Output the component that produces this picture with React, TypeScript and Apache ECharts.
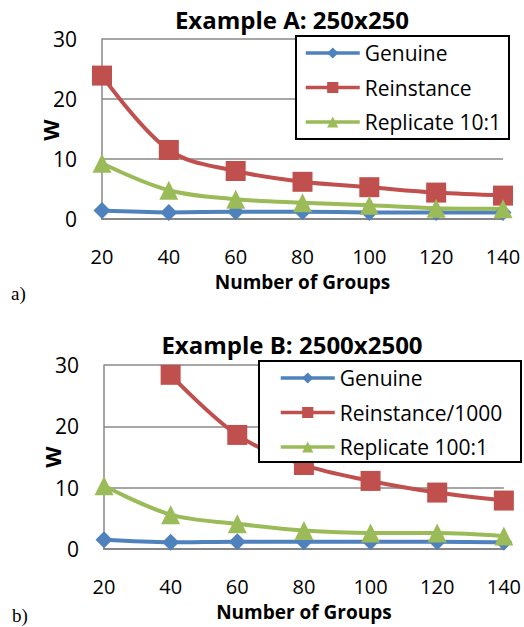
import React, { useEffect, useRef } from "react";
import * as echarts from "echarts";

const groups = ["20", "40", "60", "80", "100", "120", "140"];

const genuineA = [1.4, 1.1, 1.2, 1.2, 1.1, 1.1, 1.1];
const reinstanceA = [23.9, 11.5, 8.0, 6.2, 5.3, 4.4, 3.9];
const replicateA = [9.3, 4.8, 3.3, 2.7, 2.3, 1.8, 1.7];

const genuineB = [1.5, 1.1, 1.2, 1.2, 1.2, 1.2, 1.1];
const reinstanceB = [null, 28.4, 18.6, 13.7, 11.1, 9.2, 7.9];
const replicateB = [10.3, 5.6, 4.1, 3.0, 2.6, 2.6, 2.1];

const titleA = "Example A: 250x250";
const titleB = "Example B: 2500x2500";
const namesA = ["Genuine", "Reinstance", "Replicate 10:1"];
const namesB = ["Genuine", "Reinstance/1000", "Replicate 100:1"];
const yTicks = [0, 10, 20, 30];
const yName = "W";
const xName = "Number of Groups";

const BLUE = "#4F81BD";
const RED = "#C0504D";
const GREEN = "#9BBB59";
const FONT = "'Open Sans', sans-serif";

export default function App() {
  const ref = useRef<HTMLDivElement>(null);
  useEffect(() => {
    if (!ref.current) return;
    const chart = echarts.init(ref.current, null, { renderer: "svg" });

    const xAxis = (gi: number) => ({
      type: "category",
      gridIndex: gi,
      data: groups,
      boundaryGap: false,
      axisLine: { show: true, lineStyle: { color: "#888", width: 2 } },
      axisTick: { show: false },
      axisLabel: { margin: 27, fontSize: 20, lineHeight: 20, color: "#000", fontFamily: FONT },
      name: xName,
      nameLocation: "middle",
      nameGap: 53,
      nameMoveOverlap: false,
      nameTextStyle: { fontSize: 19, lineHeight: 19, fontWeight: "bold", color: "#000", fontFamily: FONT },
    });
    const yAxis = (gi: number) => ({
      type: "value",
      gridIndex: gi,
      min: yTicks[0],
      max: yTicks[yTicks.length - 1],
      interval: 10,
      axisLine: { show: true, lineStyle: { color: "#888", width: 1.5 } },
      axisTick: { show: false },
      axisLabel: { margin: 25, fontSize: 21, color: "#000", fontFamily: FONT },
      splitLine: { show: true, lineStyle: { color: "#888", width: 1.5 } },
    });

    const mk = (name: string, data: (number | null)[], color: string, symbol: string, size: number, xi: number) => ({
      type: "line",
      name,
      data,
      xAxisIndex: xi,
      yAxisIndex: xi,
      smooth: 0.35,
      color,
      lineStyle: { width: 4, color },
      symbol,
      symbolSize: size,
      itemStyle: { color },
      connectNulls: false,
    });

    const legendCommon = {
      orient: "vertical",
      itemWidth: 54,
      itemHeight: 14,
      itemGap: 12.5,
      padding: 0,
      lineStyle: { width: 3.5 },
      textStyle: { fontSize: 21, color: "#000", fontFamily: FONT, lineHeight: 22 },
    };

    const wText = (x: number, y: number) => ({
      type: "text",
      x,
      y,
      rotation: Math.PI / 2,
      style: {
        text: yName,
        fontSize: 22,
        fontWeight: "bold",
        fontFamily: FONT,
        fill: "#000",
        align: "center",
        verticalAlign: "middle",
      },
      z: 5,
    });

    chart.setOption({
      animation: false,
      title: [
        { text: titleA, left: 287, top: 2, textAlign: "center", textStyle: { fontSize: 24, fontWeight: "bold", color: "#000", fontFamily: FONT } },
        { text: titleB, left: 287, top: 327, textAlign: "center", textStyle: { fontSize: 24, fontWeight: "bold", color: "#000", fontFamily: FONT } },
      ],
      grid: [
        { left: 102, right: 21, top: 39, height: 180 },
        { left: 104, right: 19, top: 365, height: 184 },
      ],
      xAxis: [xAxis(0), xAxis(1)],
      yAxis: [yAxis(0), yAxis(1)],
      legend: [
        { ...legendCommon, left: 304, top: 42, data: namesA },
        { ...legendCommon, left: 279, top: 367, data: namesB },
      ],
      graphic: [
        { type: "rect", shape: { x: 296, y: 36, width: 213, height: 103 }, style: { fill: "#fff", stroke: "#000", lineWidth: 2 }, z: 4 },
        { type: "rect", shape: { x: 259, y: 361, width: 262, height: 101 }, style: { fill: "#fff", stroke: "#000", lineWidth: 2 }, z: 4 },
        wText(50, 130),
        wText(52, 457),
        { type: "text", left: 11, top: 284, style: { text: "a)", fontSize: 19, fontFamily: "'Liberation Serif', serif", fill: "#000" } },
        { type: "text", left: 12, top: 606, style: { text: "b)", fontSize: 19, fontFamily: "'Liberation Serif', serif", fill: "#000" } },
      ],
      series: [
        mk(namesA[0], genuineA, BLUE, "diamond", 17, 0),
        mk(namesA[1], reinstanceA, RED, "rect", 20, 0),
        mk(namesA[2], replicateA, GREEN, "triangle", 19, 0),
        mk(namesB[0], genuineB, BLUE, "diamond", 17, 1),
        mk(namesB[1], reinstanceB, RED, "rect", 20, 1),
        mk(namesB[2], replicateB, GREEN, "triangle", 19, 1),
      ],
    });
    return () => chart.dispose();
  }, []);
  return (
    <div
      ref={ref}
      style={{ position: "fixed", left: 0, top: 0, width: 524, height: 627, background: "#fff" }}
    />
  );
}
